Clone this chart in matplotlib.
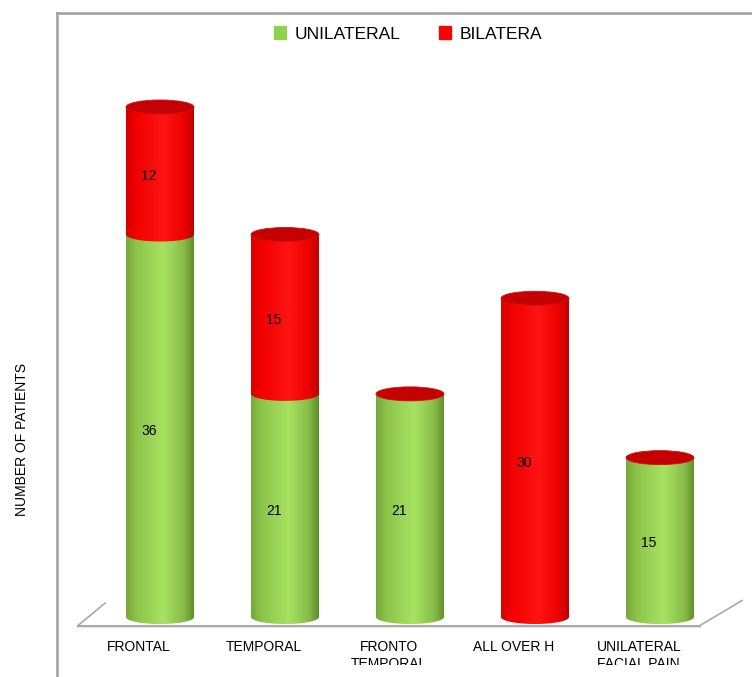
import numpy as np
import matplotlib
matplotlib.use('Agg')
import matplotlib.pyplot as plt
from matplotlib.patches import PathPatch, Ellipse, Rectangle
from matplotlib.path import Path
from matplotlib.colors import LinearSegmentedColormap
from matplotlib.transforms import Bbox
from matplotlib import font_manager

# data
categories = ['FRONTAL', 'TEMPORAL', 'FRONTO\nTEMPORAL', 'ALL OVER H', 'UNILATERAL\nFACIAL PAIN']
unilateral = [36, 21, 21, 0, 15]
bilateral = [12, 15, 0, 30, 0]
series_names = ['UNILATERAL', 'BILATERA']

installed = {f.name for f in font_manager.fontManager.ttflist}
narrow_ok = [n for n in ['Liberation Sans Narrow', 'DejaVu Sans Condensed'] if n in installed]
narrow = narrow_ok + ['Liberation Sans', 'DejaVu Sans']
legend_size = 14 if narrow_ok else 12.5
plain = ['Liberation Sans', 'DejaVu Sans']

green_cm = LinearSegmentedColormap.from_list('g', [(0, '#78A83C'), (0.15, '#8CC44A'), (0.55, '#A8E262'),
                                                   (0.85, '#88BC48'), (1, '#5E8E2A')])
red_cm = LinearSegmentedColormap.from_list('r', [(0, '#D60000'), (0.15, '#F20000'), (0.55, '#FF1414'),
                                                 (0.85, '#EE0000'), (1, '#BE0000')])

W, H = 752, 677
fig = plt.figure(figsize=(W / 100, H / 100), dpi=100)

# axes placed so that y=0 sits on the floor
px_unit_y = 10.625
px_unit_x = 125
x0_px, y0_px = 160, 617
xlim = (-0.8, 4.75)
ylim = (-1, 50)
left = (x0_px + xlim[0] * px_unit_x) / W
right = (x0_px + xlim[1] * px_unit_x) / W
bottom = (H - (y0_px - ylim[0] * px_unit_y)) / H
top = (H - (y0_px - ylim[1] * px_unit_y)) / H
ax = fig.add_axes([left, bottom, right - left, top - bottom])

hw = 0.272   # half width of cylinder
eh = 0.66    # half height of the ellipse


def body(xc, ya, yb, cmap):
    t = np.linspace(np.pi, 2 * np.pi, 60)
    verts = [(xc - hw, yb)] + list(zip(xc + hw * np.cos(t), ya + eh * np.sin(t))) + [(xc + hw, yb), (xc - hw, yb)]
    codes = [Path.MOVETO] + [Path.LINETO] * (len(verts) - 2) + [Path.CLOSEPOLY]
    patch = PathPatch(Path(verts, codes), facecolor='none', edgecolor='none')
    ax.add_patch(patch)
    grad = np.linspace(0, 1, 200).reshape(1, -1)
    im = ax.imshow(grad, extent=[xc - hw, xc + hw, ya - eh, yb], aspect='auto', cmap=cmap, zorder=2)
    im.set_clip_path(patch)


x = np.arange(len(categories))
for i in x:
    base = 0
    for val, cm in [(unilateral[i], green_cm), (bilateral[i], red_cm)]:
        if val > 0:
            body(i, base, base + val, cm)
            ax.text(i - 0.09, base + val / 2 - 0.5, str(val), ha='center', va='center', fontsize=10,
                    family=plain, zorder=5)
        base += val
    ax.add_patch(Ellipse((i, base), 2 * hw, 2 * eh, facecolor='#C40000', edgecolor='#D41010', lw=0.6, zorder=4))

# floor
ax.plot([-0.656, 4.32], [-0.8, -0.8], color='#A8A8A8', lw=1.4, clip_on=False, zorder=1)
ax.plot([-0.656, 4.32], [-0.95, -0.95], color='#E4E4E4', lw=1.5, clip_on=False, zorder=0)
ax.plot([-0.656, -0.44], [-0.8, 1.3], color='#A8A8A8', lw=1.2, clip_on=False, zorder=1)
ax.plot([4.32, 4.656], [-0.8, 1.55], color='#A8A8A8', lw=1.2, clip_on=False, zorder=1)

ax.set_xlim(*xlim)
ax.set_ylim(*ylim)
ax.axis('off')

# category labels, clipped at the bottom of the chart area
clip = Bbox([[0, H - 665], [W, H]])
for i, lab in enumerate(categories):
    t = ax.text(i - 0.17, -2.2, lab, ha='center', va='top', fontsize=10, family=plain,
                linespacing=1.25, clip_on=True)
    t.set_clip_box(clip)

# y title
fig.text(22 / W, 1 - 440 / H, 'NUMBER OF PATIENTS', rotation=90, ha='center', va='center',
         fontsize=10, family=narrow)

# chart frame
fig.add_artist(plt.Line2D([57 / W, 57 / W], [0, 1 - 13 / H], color='#A0A0A0', lw=1.8))
fig.add_artist(plt.Line2D([57 / W, 1], [1 - 13 / H, 1 - 13 / H], color='#A0A0A0', lw=1.8))

# legend
handles = [Rectangle((0, 0), 1, 1, color='#92D050'), Rectangle((0, 0), 1, 1, color='#FF0000')]
fig.legend(handles, series_names, loc='center', bbox_to_anchor=(408 / W, 1 - 34 / H), ncol=2,
           frameon=False, handlelength=0.7, handleheight=0.7, handletextpad=0.5, columnspacing=2.2,
           prop={'family': narrow, 'size': legend_size})

fig.savefig('out.png', dpi=100)
plt.close(fig)
